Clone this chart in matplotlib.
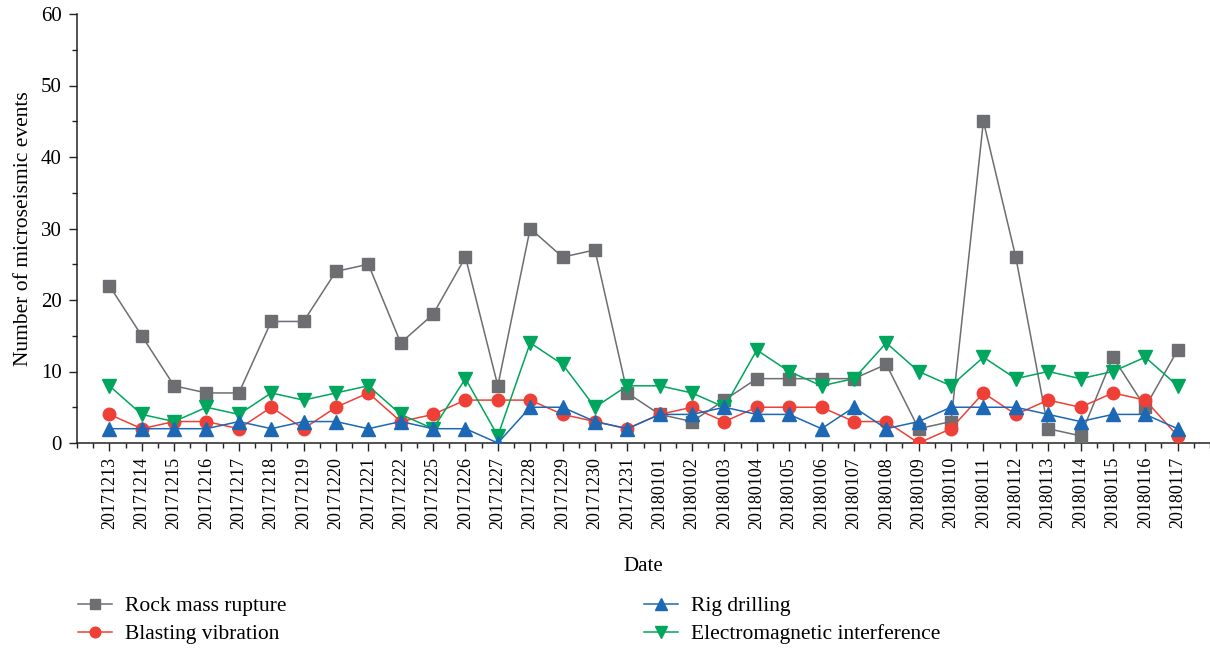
import matplotlib
matplotlib.use("Agg")
import matplotlib.pyplot as plt
from matplotlib.ticker import MultipleLocator

plt.rcParams['font.family'] = ['Liberation Serif', 'DejaVu Serif']

dates = ["20171213", "20171214", "20171215", "20171216", "20171217", "20171218",
         "20171219", "20171220", "20171221", "20171222", "20171225", "20171226",
         "20171227", "20171228", "20171229", "20171230", "20171231", "20180101",
         "20180102", "20180103", "20180104", "20180105", "20180106", "20180107",
         "20180108", "20180109", "20180110", "20180111", "20180112", "20180113",
         "20180114", "20180115", "20180116", "20180117"]

rock_mass_rupture = [22, 15, 8, 7, 7, 17, 17, 24, 25, 14, 18, 26, 8, 30, 26, 27, 7,
                     4, 3, 6, 9, 9, 9, 9, 11, 2, 3, 45, 26, 2, 1, 12, 5, 13]
blasting_vibration = [4, 2, 3, 3, 2, 5, 2, 5, 7, 3, 4, 6, 6, 6, 4, 3, 2,
                      4, 5, 3, 5, 5, 5, 3, 3, 0, 2, 7, 4, 6, 5, 7, 6, 1]
rig_drilling = [2, 2, 2, 2, 3, 2, 3, 3, 2, 3, 2, 2, 0, 5, 5, 3, 2,
                4, 4, 5, 4, 4, 2, 5, 2, 3, 5, 5, 5, 4, 3, 4, 4, 2]
electromagnetic = [8, 4, 3, 5, 4, 7, 6, 7, 8, 4, 2, 9, 1, 14, 11, 5, 8,
                   8, 7, 5, 13, 10, 8, 9, 14, 10, 8, 12, 9, 10, 9, 10, 12, 8]

series_names = ["Rock mass rupture", "Blasting vibration", "Rig drilling",
                "Electromagnetic interference"]

fig = plt.figure(figsize=(12.1, 6.48), dpi=100)
ax = fig.add_axes([77 / 1210, 1 - 443 / 648, 1 - 77 / 1210, (443 - 14) / 648])

x = list(range(len(dates)))
l1, = ax.plot(x, rock_mass_rupture, color='#6d6e71', marker='s', ms=8, lw=1.1,
              markeredgecolor='#6d6e71', label=series_names[0], zorder=3)
l2, = ax.plot(x, blasting_vibration, color='#ee4036', marker='o', ms=9, lw=1.1,
              label=series_names[1], zorder=4)
l3, = ax.plot(x, rig_drilling, color='#1c68b5', marker='^', ms=9.5, lw=1.1,
              label=series_names[2], zorder=5)
l4, = ax.plot(x, electromagnetic, color='#00a65d', marker='v', ms=9.5, lw=1.1,
              label=series_names[3], zorder=4)

ax.set_xlim(-1, len(dates))
ax.set_ylim(0, 60)
ax.set_xticks(x)
ax.set_xticklabels(dates, rotation=90, fontsize=13)
ax.xaxis.set_minor_locator(MultipleLocator(0.5))
ax.yaxis.set_major_locator(MultipleLocator(10))
ax.yaxis.set_minor_locator(MultipleLocator(5))
ax.tick_params(axis='y', labelsize=15, pad=5)
ax.tick_params(axis='x', pad=4)
ax.tick_params(which='major', direction='out', length=6, width=1, color='#222222')
ax.tick_params(which='minor', direction='out', length=3.5, width=1, color='#222222')
for s in ['top', 'right']:
    ax.spines[s].set_visible(False)
for s in ['left', 'bottom']:
    ax.spines[s].set_linewidth(1.1)
    ax.spines[s].set_color('#222222')

ax.set_ylabel("Number of microseismic events", fontsize=15.5, labelpad=6)
ax.set_xlabel("Date", fontsize=15, labelpad=20)

leg_kw = dict(frameon=False, fontsize=15.5, handlelength=1.6, handletextpad=0.6,
              labelspacing=0.38, borderaxespad=0, borderpad=0, markerscale=0.85)
fig.legend(handles=[l1, l2], loc='upper left', bbox_to_anchor=(78 / 1210, 1 - 596 / 648), **leg_kw)
fig.legend(handles=[l3, l4], loc='upper left', bbox_to_anchor=(644 / 1210, 1 - 596 / 648), **leg_kw)

fig.savefig("out.png", dpi=100)
